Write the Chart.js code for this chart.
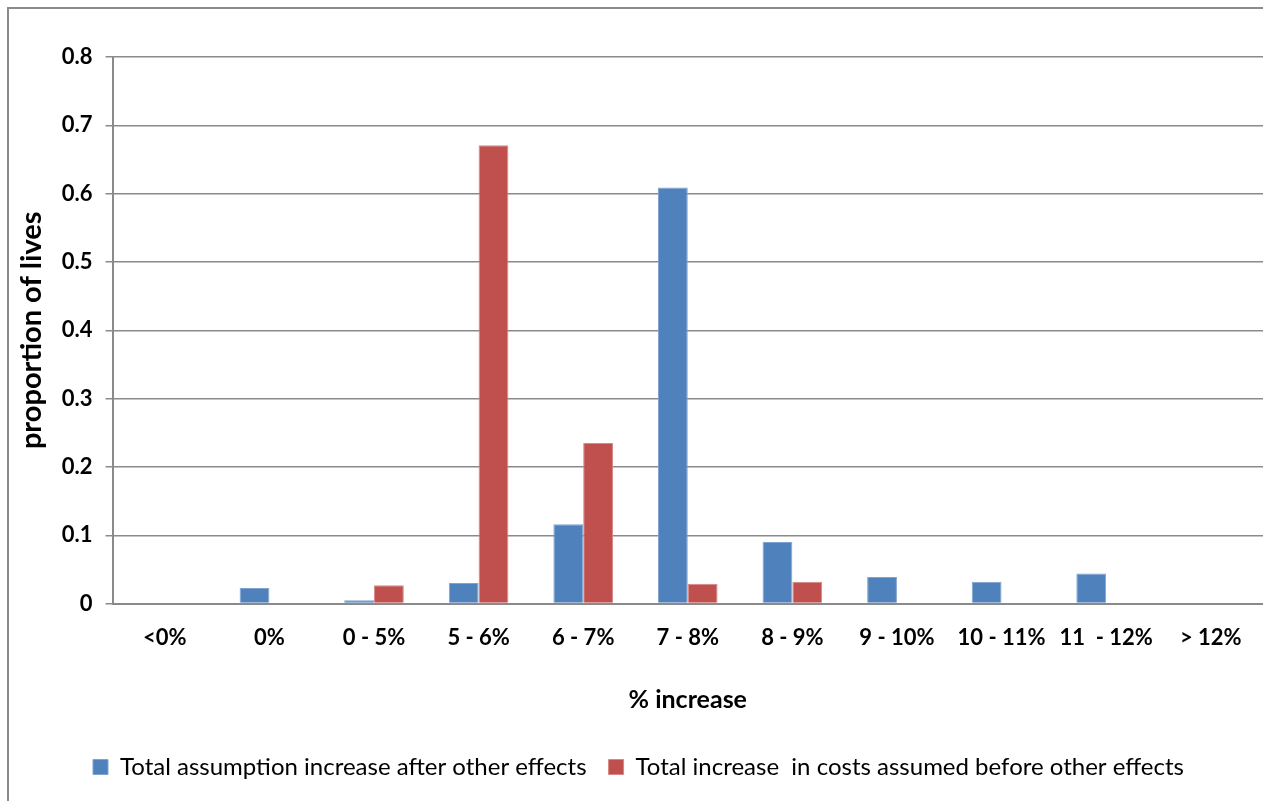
<!DOCTYPE html>
<html>
<head>
<meta charset="utf-8">
<script src="https://cdn.jsdelivr.net/npm/chart.js@4.4.1/dist/chart.umd.min.js"></script>
<style>
    body { margin: 0; background: #ffffff; overflow: hidden; }
    #wrap { position: relative; width: 1263px; height: 801px; }
    #frame {
        position: absolute; left: 7px; top: 7px; width: 1300px; height: 900px;
        border-left: 2px solid #8a8a8a; border-top: 2px solid #8a8a8a;
    }
    #chartBox { position: absolute; left: 0; top: 0; width: 1263px; height: 801px; }
</style>
</head>
<body>
<div id="wrap">
    <div id="frame"></div>
    <div id="chartBox"><canvas id="grafico"></canvas></div>
</div>
<script>
const categorias = ["<0%", "0%", "0 - 5%", "5 - 6%", "6 - 7%", "7 - 8%", "8 - 9%", "9 - 10%", "10 - 11%", "11  - 12%", "> 12%"];
const despuesEfectos = [0, 0.023, 0.005, 0.030, 0.116, 0.609, 0.090, 0.039, 0.032, 0.044, 0];
const antesEfectos = [0, 0, 0.027, 0.671, 0.235, 0.029, 0.032, 0, 0, 0, 0];
const ticksY = [0, 0.1, 0.2, 0.3, 0.4, 0.5, 0.6, 0.7, 0.8];

const fuente = "Lato, 'Liberation Sans', sans-serif";
const gris = "#8a8a8a";

const ctxGrafico = document.getElementById("grafico").getContext("2d");

const data = {
    labels: categorias,
    datasets: [
        {
            label: "Total assumption increase after other effects",
            data: despuesEfectos,
            backgroundColor: "#4f81bd",
            borderColor: "#7fa3d0",
            borderWidth: 1,
        },
        {
            label: "Total increase  in costs assumed before other effects",
            data: antesEfectos,
            backgroundColor: "#c0504d",
            borderColor: "#d68886",
            borderWidth: 1,
        },
    ],
};

const options = {
    responsive: true,
    maintainAspectRatio: false,
    animation: false,
    layout: {
        padding: { top: 57, right: 0, bottom: 12, left: 14 },
    },
    datasets: {
        bar: { barPercentage: 1, categoryPercentage: 0.57 },
    },
    plugins: {
        legend: {
            position: "bottom",
            labels: {
                font: { family: fuente, size: 24 },
                color: "#000000",
                boxWidth: 15,
                boxHeight: 15,
                padding: 22,
            },
        },
        tooltip: { enabled: false },
    },
    scales: {
        x: {
            grid: { display: false, drawTicks: false },
            border: { display: true, color: gris, width: 2 },
            ticks: {
                font: { family: fuente, size: 22, weight: "bold" },
                color: "#000000",
                padding: 21,
                maxRotation: 0,
                autoSkip: false,
            },
            title: {
                display: true,
                text: "% increase",
                font: { family: fuente, size: 25, weight: "bold" },
                color: "#000000",
                padding: { top: 13, bottom: 18 },
            },
        },
        y: {
            min: 0,
            max: 0.8,
            afterBuildTicks: (axis) => {
                axis.ticks = ticksY.map((v) => ({ value: v }));
            },
            grid: { color: gris, lineWidth: 1.5, tickLength: 7, drawTicks: true },
            border: { display: true, color: gris, width: 2 },
            ticks: {
                font: { family: fuente, size: 22, weight: "bold" },
                color: "#000000",
                padding: 13,
                callback: (v) => (v === 0 ? "0" : v.toFixed(1)),
            },
            title: {
                display: true,
                text: "proportion of lives",
                font: { family: fuente, size: 29, weight: "bold" },
                color: "#000000",
                padding: { top: 0, bottom: 0 },
            },
        },
    },
};

const myChart = new Chart(ctxGrafico, {
    type: "bar",
    data: data,
    options: options,
});
</script>
</body>
</html>
